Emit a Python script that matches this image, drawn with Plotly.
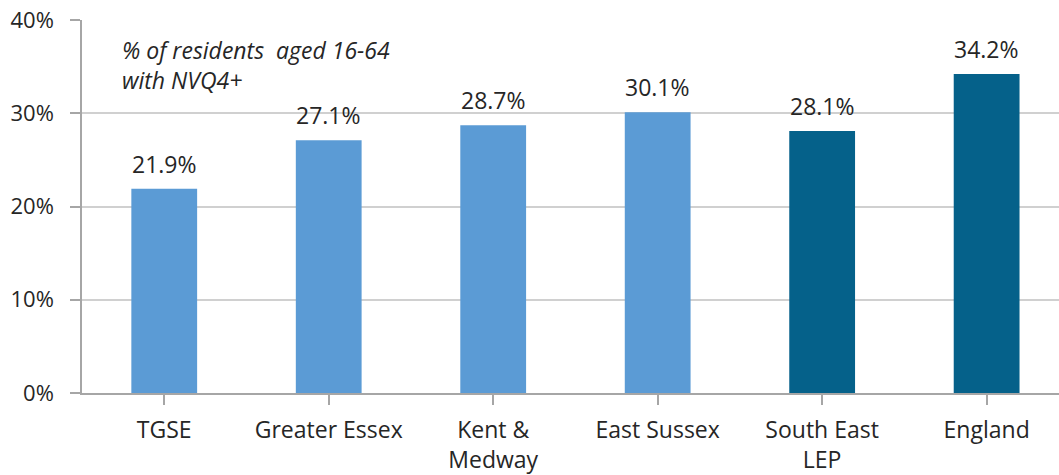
import plotly.graph_objects as go

categories = ["TGSE", "Greater Essex", "Kent &<br>Medway", "East Sussex", "South East<br>LEP", "England"]
values = [0.219, 0.271, 0.287, 0.301, 0.281, 0.342]
bar_colors = ["#5B9BD5", "#5B9BD5", "#5B9BD5", "#5B9BD5", "#05618A", "#05618A"]
y_ticks = [0, 0.1, 0.2, 0.3, 0.4]
y_tick_text = ["0%", "10%", "20%", "30%", "40%"]

FONT = "Open Sans"
TEXT = "#262626"

W, H = 1059, 475
ML, MT, MB = 82, 20, 82
plot_w = W - ML
plot_h = H - MT - MB

fig = go.Figure(
    go.Bar(
        x=list(range(len(categories))),
        y=values,
        width=0.4,
        marker=dict(color=bar_colors, line=dict(width=0)),
        hoverinfo="skip",
    )
)

# value labels above each bar
for i, v in enumerate(values):
    fig.add_annotation(
        x=i, y=v, xref="x", yref="y",
        text=f"{v*100:.1f}%",
        showarrow=False, yanchor="bottom", yshift=7,
        font=dict(family=FONT, size=23, color=TEXT),
    )

# chart note in the top-left corner of the plot area
fig.add_annotation(
    x=(120 - ML) / plot_w, y=(H - MB - 65) / plot_h,
    xref="paper", yref="paper",
    text="<i>% of residents  aged 16-64<br>with NVQ4+</i>",
    showarrow=False, xanchor="left", yanchor="middle", align="left",
    font=dict(family=FONT, size=23, color=TEXT),
)

fig.update_layout(
    width=W, height=H,
    margin=dict(l=ML, r=0, t=MT, b=MB),
    paper_bgcolor="white", plot_bgcolor="white",
    showlegend=False,
    xaxis=dict(
        tickmode="array",
        tickvals=list(range(len(categories))),
        ticktext=categories,
        range=[-0.5, 5.44],
        showgrid=False, zeroline=False,
        showline=True, linecolor="#A6A6A6", linewidth=1.5,
        ticks="outside", ticklen=10, tickcolor="#A6A6A6", tickwidth=1.5,
        tickfont=dict(family=FONT, size=23, color=TEXT),
        ticklabelstandoff=6,
    ),
    yaxis=dict(
        range=[0, 0.4],
        tickvals=y_ticks, ticktext=y_tick_text,
        showgrid=True, gridcolor="#D0D0D0", gridwidth=1.5,
        zeroline=False,
        showline=True, linecolor="#A6A6A6", linewidth=1.5,
        ticks="outside", ticklen=10, tickcolor="#A6A6A6", tickwidth=1.5,
        tickfont=dict(family=FONT, size=22, color=TEXT),
        ticklabelstandoff=12,
    ),
)

fig.write_html("out.html")
